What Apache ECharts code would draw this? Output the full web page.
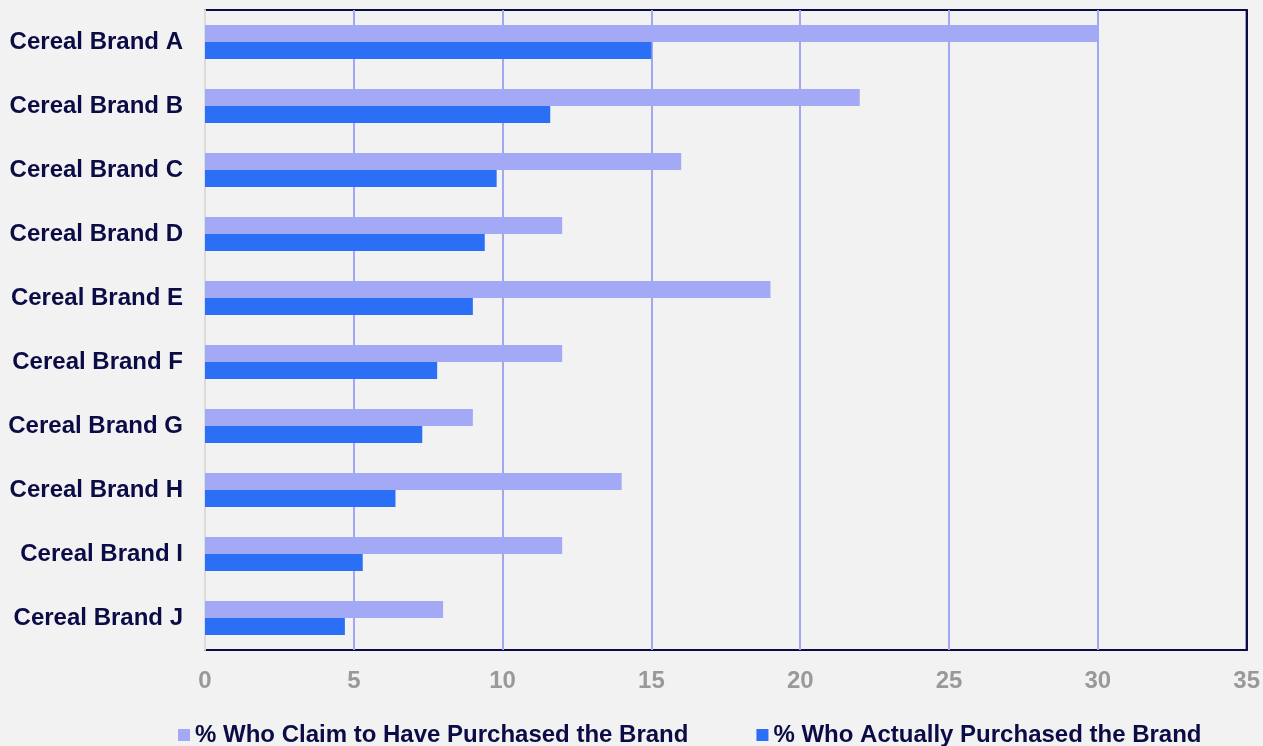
<!DOCTYPE html>
<html>
<head>
<meta charset="utf-8">
<script src="https://cdn.jsdelivr.net/npm/echarts@6/dist/echarts.min.js"></script>
<style>
  html, body { margin: 0; padding: 0; background: #f2f2f2; }
  #chart { width: 1263px; height: 746px; }
</style>
</head>
<body>
<div id="chart"></div>
<script>
const brands = ['Cereal Brand A', 'Cereal Brand B', 'Cereal Brand C', 'Cereal Brand D', 'Cereal Brand E',
    'Cereal Brand F', 'Cereal Brand G', 'Cereal Brand H', 'Cereal Brand I', 'Cereal Brand J'];
const claimed = [30, 22, 16, 12, 19, 12, 9, 14, 12, 8];
const actual = [15, 11.6, 9.8, 9.4, 9.0, 7.8, 7.3, 6.4, 5.3, 4.7];
const seriesNames = ['% Who Claim to Have Purchased the Brand', '% Who Actually Purchased the Brand'];

var chart = echarts.init(document.getElementById('chart'));

chart.setOption({
    backgroundColor: '#f2f2f2',
    animation: false,
    textStyle: { fontFamily: 'Liberation Sans, Arial, sans-serif' },
    grid: {
        left: 205, right: 16, top: 10, bottom: 96,
        show: true, borderColor: '#0b0b45', borderWidth: 2, backgroundColor: 'transparent'
    },
    legend: {
        left: 173, bottom: -6,
        itemWidth: 12, itemHeight: 12, itemGap: 68,
        icon: 'rect',
        textStyle: { color: '#0b0b45', fontSize: 24, fontWeight: 'bold' },
        data: seriesNames
    },
    xAxis: {
        type: 'value', min: 0, max: 35, interval: 5,
        axisLine: { show: false },
        axisTick: { show: false },
        splitLine: { lineStyle: { color: '#a0a8f4', width: 2 } },
        axisLabel: { color: '#999999', fontSize: 24, fontWeight: 'bold', margin: 19 }
    },
    yAxis: [
        {
            type: 'category', data: brands, inverse: true,
            axisLine: { show: true, lineStyle: { color: '#dcdcdc', width: 2 } },
            axisTick: { show: false },
            axisLabel: { color: '#0b0b45', fontSize: 24, fontWeight: 'bold', margin: 22 }
        },
        {
            // right frame edge drawn over the last grid line
            type: 'category', data: brands, inverse: true, position: 'right',
            axisLine: { show: true, lineStyle: { color: '#0b0b45', width: 2 } },
            axisTick: { show: false },
            axisLabel: { show: false }
        }
    ],
    series: [
        {
            name: seriesNames[0], type: 'bar', data: claimed,
            barWidth: 17, barGap: '0%',
            itemStyle: { color: '#a3a9f5' }
        },
        {
            name: seriesNames[1], type: 'bar', data: actual,
            barWidth: 17, barGap: '0%',
            itemStyle: { color: '#2b6ff7' }
        }
    ]
});
</script>
</body>
</html>
